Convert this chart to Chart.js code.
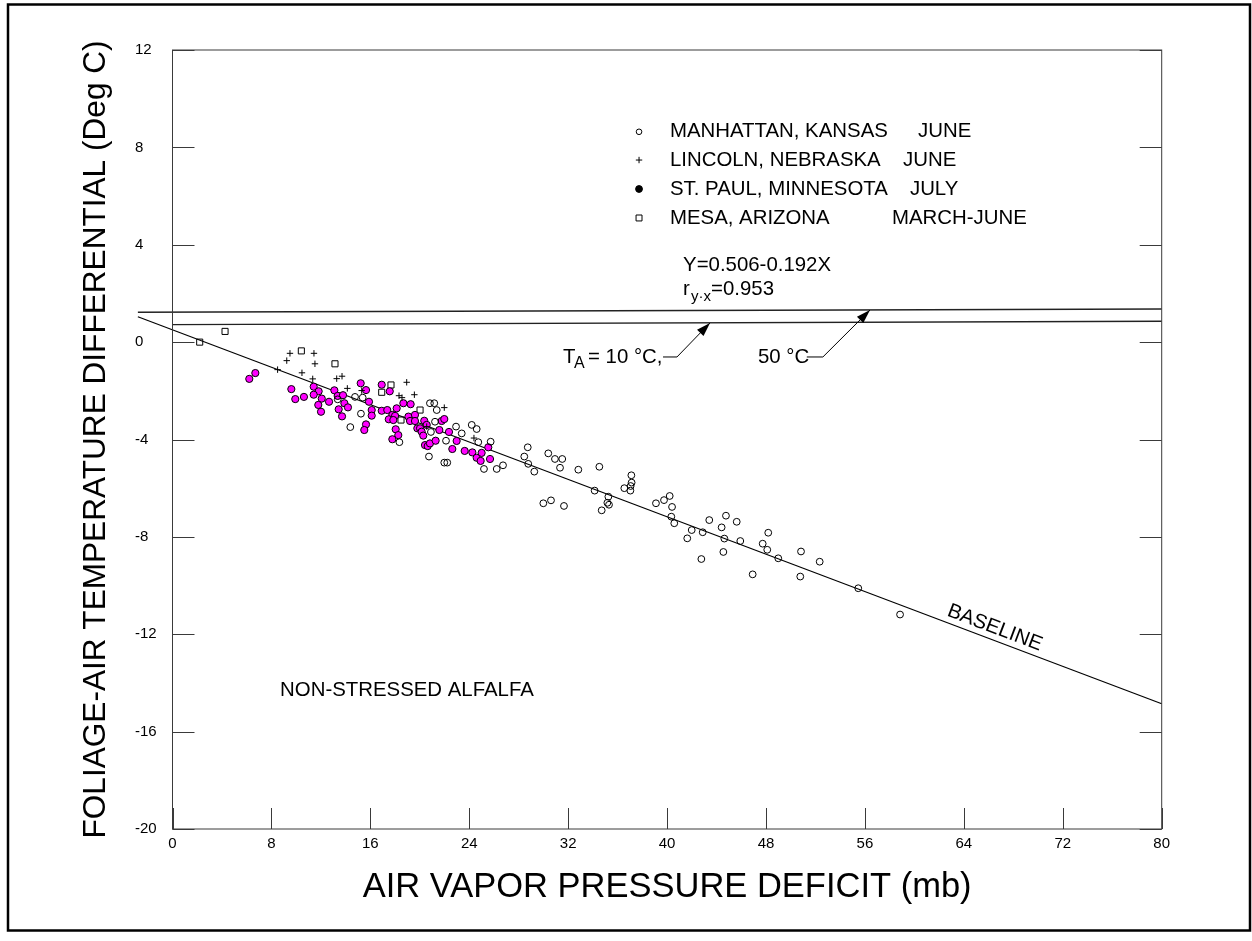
<!DOCTYPE html>
<html>
<head>
<meta charset="utf-8">
<script src="https://cdn.jsdelivr.net/npm/chart.js@4.4.0/dist/chart.umd.min.js"></script>
<style>
  html, body { margin: 0; padding: 0; background: #fff; }
  #wrap { width: 1252px; height: 941px; }
</style>
</head>
<body>
<div id="wrap"><canvas id="chart" width="1252" height="941"></canvas></div>
<script>
// values
const xTickValues = [0, 8, 16, 24, 32, 40, 48, 56, 64, 72, 80];
const yTickValues = [-20, -16, -12, -8, -4, 0, 4, 8, 12];

const seriesNames = ['MANHATTAN, KANSAS', 'LINCOLN, NEBRASKA', 'ST. PAUL, MINNESOTA', 'MESA, ARIZONA'];
const seriesMonths = ['JUNE', 'JUNE', 'JULY', 'MARCH-JUNE'];

const manhattanX = [14.76, 15.38, 13.36, 15.24, 14.38, 18.35, 20.82, 21.17, 21.37, 20.9, 21.23, 20.74, 22.12, 21.98, 22.22,
  22.93, 23.39, 24.2, 24.6, 24.73, 25.73, 25.19, 26.22, 26.73, 28.73, 28.45, 28.77, 29.26, 29.99, 30.61, 31.66, 30.39,
  30.93, 31.52, 31.34, 32.82, 34.52, 34.14, 35.25, 35.17, 35.3, 34.71, 37.11, 37.13, 37.05, 36.54, 37.03, 39.1, 39.75,
  40.21, 40.4, 40.34, 40.58, 41.99, 41.63, 42.88, 42.77, 43.41, 44.41, 44.76, 44.63, 44.55, 45.63, 45.92, 46.92, 48.18,
  47.73, 48.1, 48.99, 50.83, 50.77, 52.34, 55.46, 58.84];
const manhattanY = [-2.25, -2.28, -2.35, -2.94, -3.49, -4.11, -2.51, -2.51, -2.79, -3.69, -3.27, -4.7, -4.05, -4.95, -4.95,
  -3.47, -3.75, -3.4, -3.57, -4.11, -4.09, -5.21, -5.21, -5.06, -4.32, -4.7, -5.0, -5.32, -6.62, -6.5, -6.73, -4.57,
  -4.8, -4.8, -5.16, -5.24, -5.12, -6.1, -6.35, -6.6, -6.68, -6.91, -5.47, -5.77, -5.91, -6.0, -6.1, -6.62, -6.49,
  -6.32, -6.77, -7.17, -7.44, -7.72, -8.06, -7.81, -8.91, -7.31, -7.61, -7.13, -8.07, -8.62, -7.38, -8.17, -9.54, -7.83,
  -8.28, -8.53, -8.88, -8.6, -9.63, -9.02, -10.11, -11.19];

const lincolnX = [9.5, 9.24, 11.44, 11.52, 8.5, 10.47, 11.34, 13.28, 13.71, 14.14, 15.3, 18.94, 18.32, 18.56, 19.56, 21.98, 20.56, 24.38];
const lincolnY = [-0.46, -0.76, -0.46, -0.89, -1.13, -1.26, -1.51, -1.5, -1.4, -1.9, -1.99, -1.65, -2.2, -2.28, -2.16, -2.69, -3.47, -3.94];

const stPaulX = [6.7, 6.21, 9.61, 9.93, 10.63, 11.42, 11.82, 11.42, 12.07, 11.79, 12.01, 12.66, 13.09, 13.36, 13.79, 13.9,
  13.44, 14.19, 13.71, 15.22, 15.65, 15.89, 15.65, 15.51, 16.11, 16.11, 16.92, 17.57, 16.92, 17.37, 18.13, 18.67, 19.26,
  17.78, 18.0, 17.49, 17.86, 19.08, 19.61, 19.21, 19.61, 20.36, 18.05, 18.26, 17.78, 19.8, 20.02, 20.15, 20.28, 20.56,
  20.42, 20.64, 20.82, 21.28, 21.58, 21.77, 21.98, 22.36, 22.98, 22.63, 23.63, 24.25, 24.6, 25.0, 24.92, 25.54, 25.68];
const stPaulY = [-1.27, -1.51, -1.93, -2.34, -2.25, -1.83, -2.02, -2.16, -2.32, -2.58, -2.86, -2.45, -1.98, -2.21, -2.18, -2.51,
  -2.76, -2.68, -3.05, -1.69, -1.97, -2.45, -3.38, -3.61, -2.79, -3.02, -1.75, -2.02, -2.82, -2.79, -2.72, -2.51, -2.55,
  -2.99, -3.03, -3.17, -3.2, -3.06, -2.99, -3.24, -3.24, -3.23, -3.58, -3.82, -3.99, -3.54, -3.54, -3.68, -3.84, -3.4,
  -4.23, -4.27, -4.16, -4.05, -3.61, -3.24, -3.16, -3.69, -4.06, -4.39, -4.47, -4.53, -4.75, -4.55, -4.88, -4.32, -4.8];

const mesaX = [2.2, 4.25, 10.42, 13.14, 17.67, 16.92, 20.02, 18.48];
const mesaY = [0.0, 0.44, -0.36, -0.89, -1.76, -2.06, -2.79, -3.2];

// Y=0.506-0.192X, end points
const baselineX = [-2.8, 80];
const baselineY = [1.04, -14.854];
// air temperature lines (10 C lower, 50 C upper)
const t10X = [0, 80];
const t10Y = [0.72, 0.86];
const t50X = [-2.8, 80];
const t50Y = [1.23, 1.36];

const FONT = '"Liberation Sans", Arial, Helvetica, sans-serif';
const pts = (xs, ys) => xs.map((x, i) => ({x: x, y: ys[i]}));

const legendMarks = [
  {pointStyle: 'circle', radius: 2.8, fill: 'rgba(0,0,0,0)'},
  {pointStyle: 'cross', radius: 3.2, fill: 'rgba(0,0,0,0)'},
  {pointStyle: 'circle', radius: 3.4, fill: '#000'},
  {pointStyle: 'rect', radius: 4.2, fill: 'rgba(0,0,0,0)'}
];

function arrow(ctx, p) {
  ctx.beginPath();
  ctx.moveTo(p[0][0], p[0][1]);
  for (let i = 1; i < p.length; i++) ctx.lineTo(p[i][0], p[i][1]);
  ctx.stroke();
  const [x1, y1] = p[p.length - 2], [x2, y2] = p[p.length - 1];
  const a = Math.atan2(y2 - y1, x2 - x1), L = 14, W = 4.5;
  ctx.beginPath();
  ctx.moveTo(x2, y2);
  ctx.lineTo(x2 - L * Math.cos(a) + W * Math.sin(a), y2 - L * Math.sin(a) - W * Math.cos(a));
  ctx.lineTo(x2 - L * Math.cos(a) - W * Math.sin(a), y2 - L * Math.sin(a) + W * Math.cos(a));
  ctx.closePath();
  ctx.fill();
}

const annotate = {
  id: 'annotate',
  afterDatasetsDraw(chart) {
    const {ctx, chartArea: a, scales: {x, y}} = chart;
    const px = v => x.getPixelForValue(v);
    const py = v => y.getPixelForValue(v);
    ctx.save();

    // outer border
    ctx.strokeStyle = '#000';
    ctx.lineWidth = 2.5;
    ctx.strokeRect(8, 4.5, 1242, 926);

    // plot frame and inward ticks
    ctx.strokeStyle = '#3a3a3a';
    ctx.lineWidth = 1;
    ctx.strokeRect(a.left, a.top, a.right - a.left, a.bottom - a.top);
    ctx.beginPath();
    x.ticks.forEach(t => {
      const p = Math.round(px(t.value)) + 0.5;
      ctx.moveTo(p, a.bottom); ctx.lineTo(p, a.bottom - 21);
    });
    y.ticks.forEach(t => {
      const p = Math.round(py(t.value)) + 0.5;
      ctx.moveTo(a.left, p); ctx.lineTo(a.left + 22, p);
      ctx.moveTo(a.right, p); ctx.lineTo(a.right - 22, p);
    });
    ctx.stroke();

    ctx.fillStyle = '#000';
    ctx.strokeStyle = '#000';
    ctx.textBaseline = 'middle';
    ctx.textAlign = 'left';

    // legend
    const rowY = [8.64, 7.48, 6.29, 5.10];
    const monthX = [60.29, 59.08, 59.64, 58.19];
    ctx.font = '20.4px ' + FONT;
    seriesNames.forEach((name, i) => {
      const m = legendMarks[i];
      ctx.fillStyle = m.fill;
      ctx.lineWidth = 1;
      Chart.helpers.drawPoint(ctx, {pointStyle: m.pointStyle, radius: m.radius, rotation: 0, borderWidth: 1}, px(37.73), py(rowY[i]));
      ctx.fillStyle = '#000';
      ctx.fillText(name, px(40.23), py(rowY[i]));
      ctx.fillText(seriesMonths[i], px(monthX[i]), py(rowY[i]));
    });

    // regression text
    ctx.fillText('Y=0.506-0.192X', px(41.29), py(3.15));
    const rx = px(41.29), ry = py(2.16);
    ctx.fillText('r', rx, ry);
    ctx.font = '15px ' + FONT;
    ctx.fillText('y\u00b7x', rx + 8, ry + 7);
    ctx.font = '20.4px ' + FONT;
    ctx.fillText('=0.953', rx + 28, ry);

    // air temperature labels with arrows
    const tx = px(31.58), ty = py(-0.61);
    ctx.fillText('T', tx, ty);
    ctx.font = '16px ' + FONT;
    ctx.fillText('A', tx + 11, ty + 7);
    ctx.font = '20.4px ' + FONT;
    ctx.fillText('= 10 \u00b0C,', tx + 25, ty);
    ctx.fillText('50 \u00b0C', px(47.35), ty);
    ctx.lineWidth = 1;
    arrow(ctx, [[px(39.67), ty], [px(40.8), ty], [px(43.47), py(0.79)]]);
    arrow(ctx, [[px(51.3), ty], [px(52.6), ty], [px(56.41), py(1.32)]]);

    // baseline label, rotated along the line
    const ang = Math.atan2(py(baselineY[1]) - py(baselineY[0]), px(baselineX[1]) - px(baselineX[0]));
    ctx.save();
    ctx.translate(px(66.5), py(-11.74));
    ctx.rotate(ang);
    ctx.textAlign = 'center';
    ctx.fillText('BASELINE', 0, 0);
    ctx.restore();

    ctx.fillText('NON-STRESSED ALFALFA', px(8.7), py(-14.29));
    ctx.restore();
  }
};

new Chart(document.getElementById('chart').getContext('2d'), {
  type: 'scatter',
  data: {
    datasets: [
      {label: seriesNames[0], data: pts(manhattanX, manhattanY), pointStyle: 'circle', pointRadius: 3.4,
        backgroundColor: 'rgba(255,255,255,0)', borderColor: '#000', borderWidth: 1},
      {label: seriesNames[1], data: pts(lincolnX, lincolnY), pointStyle: 'cross', pointRadius: 3.2,
        borderColor: '#000', borderWidth: 1},
      {label: seriesNames[2], data: pts(stPaulX, stPaulY), pointStyle: 'circle', pointRadius: 3.6,
        backgroundColor: '#ff00ff', borderColor: '#000', borderWidth: 1},
      {label: seriesNames[3], data: pts(mesaX, mesaY), pointStyle: 'rect', pointRadius: 4.3,
        backgroundColor: 'rgba(255,255,255,0)', borderColor: '#000', borderWidth: 1},
      {label: 'baseline', data: pts(baselineX, baselineY), showLine: true, pointRadius: 0,
        borderColor: '#000', borderWidth: 1.2, clip: false},
      {label: '10 C', data: pts(t10X, t10Y), showLine: true, pointRadius: 0,
        borderColor: '#222', borderWidth: 1.4, clip: false},
      {label: '50 C', data: pts(t50X, t50Y), showLine: true, pointRadius: 0,
        borderColor: '#222', borderWidth: 1.4, clip: false}
    ]
  },
  options: {
    responsive: false,
    animation: false,
    layout: {padding: {left: 135, top: 50, right: 90.3, bottom: 0}},
    plugins: {legend: {display: false}, tooltip: {enabled: false}},
    scales: {
      x: {
        type: 'linear', position: 'bottom', min: 0, max: 80,
        afterBuildTicks: s => { s.ticks = xTickValues.map(v => ({value: v})); },
        afterFit: s => { s.height = 112; },
        grid: {display: false, drawTicks: false},
        border: {display: false},
        ticks: {font: {family: FONT, size: 15}, color: '#000', padding: 6, maxRotation: 0, autoSkip: false},
        title: {display: true, text: 'AIR VAPOR PRESSURE DEFICIT (mb)', color: '#000',
          font: {family: FONT, size: 34.5}, padding: {top: 0, bottom: 33.3}}
      },
      y: {
        type: 'linear', position: 'left', min: -20, max: 12,
        afterBuildTicks: s => { s.ticks = yTickValues.map(v => ({value: v})); },
        afterFit: s => { s.width = 37.5; },
        grid: {display: false, drawTicks: false},
        border: {display: false},
        ticks: {font: {family: FONT, size: 15}, color: '#000', crossAlign: 'far', autoSkip: false},
        title: {display: true, text: 'FOLIAGE-AIR TEMPERATURE DIFFERENTIAL (Deg C)', color: '#000',
          font: {family: FONT, size: 31.6}, padding: {top: -58, bottom: 0}}
      }
    }
  },
  plugins: [annotate]
});
</script>
</body>
</html>
